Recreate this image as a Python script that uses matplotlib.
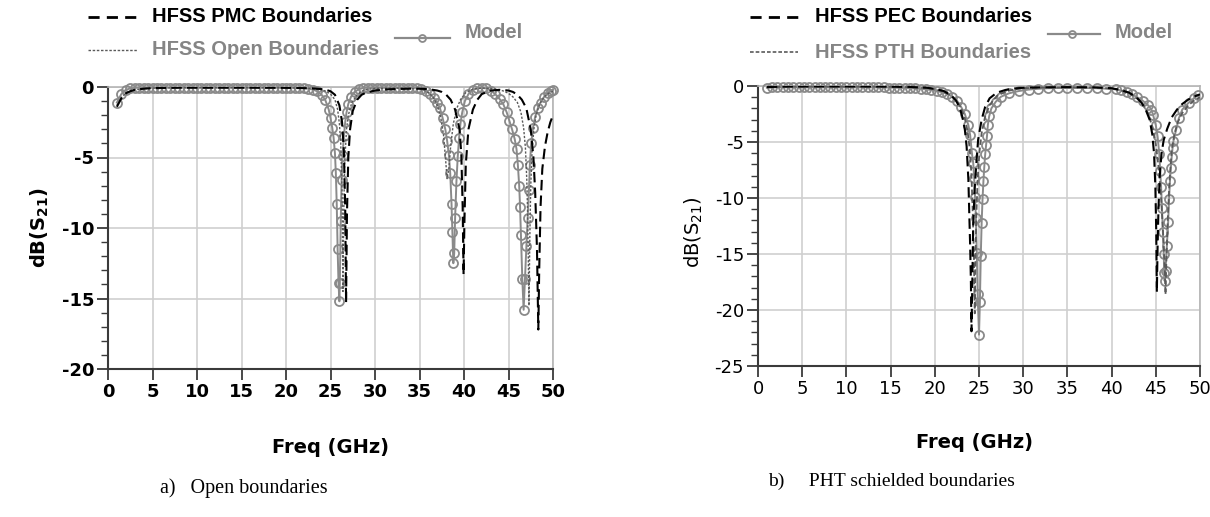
import matplotlib
matplotlib.use('Agg')
import matplotlib.pyplot as plt
from matplotlib.lines import Line2D
from matplotlib.ticker import MultipleLocator

plt.rcParams['mathtext.fontset'] = 'dejavusans'
plt.rcParams['axes.unicode_minus'] = False

# ---------------- data (a) open boundaries ----------------
pmc_f = [1.0, 1.5, 2.0, 2.5, 3.0, 4.0, 5.0, 8.0, 12.0, 16.0, 20.0, 22.0, 23.0, 24.0, 24.5, 25.0, 25.5,
         26.0, 26.3, 26.5, 26.65, 26.75, 26.85, 27.0, 27.2, 27.5, 28.0, 28.5, 29.0, 30.0, 31.0, 32.0,
         34.0, 35.0, 36.0, 37.0, 37.5, 38.0, 38.5, 39.0, 39.5, 39.7, 39.85, 39.95, 40.05, 40.2, 40.5,
         41.0, 41.5, 42.0, 43.0, 44.0, 45.0, 45.5, 46.0, 46.5, 47.0, 47.5, 47.8, 48.0, 48.2, 48.35,
         48.45, 48.6, 48.8, 49.1, 49.4, 49.7, 50.0]
pmc_db = [-1.4, -0.8, -0.45, -0.3, -0.2, -0.12, -0.08, -0.05, -0.05, -0.05, -0.06, -0.08, -0.1, -0.15,
          -0.2, -0.3, -0.55, -1.3, -2.5, -4.5, -8.5, -15.3, -9.0, -5.0, -3.0, -1.7, -0.9, -0.55, -0.4,
          -0.25, -0.18, -0.15, -0.12, -0.12, -0.15, -0.25, -0.35, -0.55, -0.9, -1.6, -3.0, -4.8, -8.5,
          -13.3, -9.5, -5.5, -3.0, -1.6, -0.9, -0.5, -0.25, -0.2, -0.25, -0.35, -0.55, -0.9, -1.5, -3.0,
          -5.0, -7.5, -11.5, -17.2, -13.0, -8.5, -5.8, -4.2, -3.2, -2.5, -2.0]

open_f = [1.0, 1.5, 2.0, 2.5, 3.0, 4.0, 5.0, 8.0, 12.0, 16.0, 20.0, 22.0, 23.0, 24.0, 24.5, 25.0, 25.5,
          25.8, 26.0, 26.15, 26.3, 26.4, 26.5, 26.6, 26.8, 27.0, 27.4, 28.0, 28.5, 29.0, 30.0, 32.0,
          34.0, 35.0, 35.5, 36.0, 36.5, 37.0, 37.4, 37.7, 37.9, 38.1, 38.3, 38.5, 38.8, 39.2, 39.6,
          40.2, 41.0, 42.0, 43.0, 44.0, 44.5, 45.0, 45.5, 46.0, 46.4, 46.7, 46.9, 47.05, 47.15, 47.3,
          47.4, 47.5, 47.65, 47.85, 48.1, 48.5, 49.0, 49.5, 50.0]
open_db = [-1.3, -0.75, -0.45, -0.3, -0.2, -0.12, -0.08, -0.05, -0.05, -0.05, -0.06, -0.08, -0.12, -0.2,
           -0.3, -0.5, -0.9, -1.6, -2.6, -4.0, -7.5, -14.5, -8.5, -5.3, -3.0, -2.0, -1.1, -0.55, -0.3,
           -0.18, -0.1, -0.08, -0.1, -0.15, -0.25, -0.4, -0.7, -1.3, -2.2, -3.4, -4.9, -6.5, -5.8, -4.2,
           -2.6, -1.5, -0.9, -0.4, -0.15, -0.08, -0.1, -0.2, -0.3, -0.45, -0.7, -1.1, -1.8, -2.9, -4.3,
           -6.5, -9.0, -15.5, -10.5, -7.0, -4.5, -3.0, -2.0, -1.2, -0.7, -0.45, -0.3]

modA_f = [1.0, 1.5, 2.0, 2.5, 3.0, 3.5, 4.0, 4.5, 5.0, 5.5, 6.0, 6.5, 7.0, 7.5, 8.0, 8.5, 9.0, 9.5,
          10.0, 10.5, 11.0, 11.5, 12.0, 12.5, 13.0, 13.5, 14.0, 14.5, 15.0, 15.5, 16.0, 16.5, 17.0,
          17.5, 18.0, 18.5, 19.0, 19.5, 20.0, 20.5, 21.0, 21.5, 22.0, 22.5, 23.0, 23.5, 24.0, 24.4,
          24.8, 25.0, 25.2, 25.35, 25.5, 25.6, 25.7, 25.8, 25.9, 26.0, 26.05, 26.15, 26.25, 26.35,
          26.5, 26.65, 26.8, 27.0, 27.3, 27.7, 28.2, 28.7, 29.2, 29.7, 30.2, 30.7, 31.2, 31.7, 32.2,
          32.7, 33.2, 33.7, 34.2, 34.7, 35.2, 35.7, 36.2, 36.6, 37.0, 37.3, 37.6, 37.9, 38.1, 38.3,
          38.45, 38.6, 38.7, 38.8, 38.9, 39.0, 39.15, 39.3, 39.45, 39.6, 39.8, 40.1, 40.5, 41.0, 41.5,
          42.0, 42.5, 43.0, 43.5, 44.0, 44.4, 44.8, 45.1, 45.4, 45.7, 45.9, 46.05, 46.2, 46.3, 46.4,
          46.55, 46.7, 46.85, 47.0, 47.15, 47.3, 47.4, 47.55, 47.75, 48.0, 48.3, 48.6, 49.0, 49.4,
          49.8, 50.0]
modA_db = [-1.1, -0.5, -0.2, -0.1, -0.06, -0.05, -0.05, -0.05, -0.05, -0.05, -0.05, -0.05, -0.05,
           -0.05, -0.05, -0.05, -0.05, -0.05, -0.05, -0.05, -0.05, -0.05, -0.05, -0.05, -0.05, -0.05,
           -0.05, -0.05, -0.05, -0.05, -0.05, -0.05, -0.05, -0.05, -0.05, -0.05, -0.05, -0.05, -0.05,
           -0.05, -0.05, -0.06, -0.08, -0.12, -0.18, -0.3, -0.55, -0.9, -1.6, -2.2, -2.9, -3.6, -4.7,
           -6.1, -8.3, -11.5, -13.9, -15.2, -13.9, -9.5, -6.6, -4.9, -3.5, -2.5, -1.8, -1.2, -0.7,
           -0.35, -0.15, -0.07, -0.05, -0.05, -0.05, -0.05, -0.05, -0.05, -0.05, -0.05, -0.05, -0.05,
           -0.05, -0.06, -0.12, -0.25, -0.5, -0.75, -1.1, -1.5, -2.2, -3.0, -3.8, -4.8, -6.1, -8.3,
           -10.3, -12.5, -11.8, -9.3, -6.7, -4.9, -3.6, -2.6, -1.8, -1.0, -0.5, -0.2, -0.08, -0.06,
           -0.1, -0.25, -0.5, -0.85, -1.2, -1.8, -2.4, -3.0, -3.7, -4.4, -5.5, -7.0, -8.5, -10.5,
           -13.6, -15.8, -13.6, -11.3, -9.3, -7.3, -5.5, -4.0, -2.9, -2.1, -1.5, -1.1, -0.7, -0.45,
           -0.25, -0.2]

# ---------------- data (b) PTH shielded boundaries ----------------
pec_f = [1.0, 3.0, 6.0, 10.0, 14.0, 17.0, 19.0, 20.0, 21.0, 21.8, 22.4, 22.8, 23.1, 23.4, 23.6, 23.8,
         23.9, 24.0, 24.08, 24.15, 24.25, 24.33, 24.5, 24.7, 24.9, 25.3, 25.7, 26.2, 27.0, 28.0, 29.0,
         30.0, 32.0, 35.0, 38.0, 40.0, 41.0, 42.0, 42.8, 43.4, 43.9, 44.3, 44.6, 44.8, 44.95, 45.05,
         45.12, 45.2, 45.3, 45.45, 45.65, 45.9, 46.3, 46.8, 47.4, 48.0, 48.7, 49.3, 50.0]
pec_db = [-0.1, -0.05, -0.04, -0.04, -0.05, -0.08, -0.15, -0.25, -0.45, -0.8, -1.3, -1.9, -2.7, -3.9,
          -5.4, -8.4, -11.4, -14.3, -17.3, -21.9, -17.3, -12.9, -9.3, -6.9, -4.8, -3.0, -1.85, -1.1,
          -0.6, -0.35, -0.22, -0.16, -0.12, -0.1, -0.12, -0.2, -0.35, -0.6, -1.0, -1.5, -2.2, -3.0,
          -4.3, -6.0, -9.0, -13.0, -18.4, -14.5, -11.0, -8.0, -6.0, -4.8, -3.8, -2.8, -2.1, -1.6,
          -1.2, -0.95, -0.75]

pth_f = [1.0, 3.0, 6.0, 10.0, 14.0, 17.0, 19.0, 20.0, 21.0, 21.8, 22.5, 23.0, 23.4, 23.7, 23.95, 24.15,
         24.3, 24.42, 24.52, 24.6, 24.7, 24.85, 25.05, 25.3, 25.7, 26.2, 27.0, 28.0, 29.0, 30.0, 32.0,
         35.0, 38.0, 40.0, 41.0, 42.0, 42.8, 43.5, 44.1, 44.6, 45.0, 45.35, 45.6, 45.85, 46.0, 46.1,
         46.2, 46.35, 46.55, 46.8, 47.1, 47.5, 48.0, 48.6, 49.3, 50.0]
pth_db = [-0.12, -0.06, -0.05, -0.05, -0.06, -0.1, -0.18, -0.3, -0.5, -0.85, -1.35, -2.0, -2.9, -4.0,
          -5.6, -8.0, -11.5, -15.0, -20.3, -15.5, -11.5, -8.3, -5.9, -4.2, -2.7, -1.7, -0.9, -0.5,
          -0.3, -0.2, -0.14, -0.12, -0.14, -0.22, -0.38, -0.65, -1.05, -1.6, -2.4, -3.6, -5.2, -7.5,
          -10.0, -13.5, -16.0, -18.6, -15.5, -12.0, -8.5, -5.8, -4.3, -3.2, -2.4, -1.8, -1.3, -1.0]

modB_f = [1.0, 1.6, 2.2, 2.8, 3.4, 4.0, 4.6, 5.2, 5.8, 6.4, 7.0, 7.6, 8.2, 8.8, 9.4, 10.0, 10.6, 11.2,
          11.8, 12.4, 13.0, 13.6, 14.2, 14.8, 15.4, 16.0, 16.6, 17.2, 17.8, 18.4, 19.0, 19.6, 20.2,
          20.8, 21.4, 22.0, 22.5, 23.0, 23.4, 23.8, 24.0, 24.2, 24.35, 24.45, 24.55, 24.65, 24.75,
          24.85, 25.0, 25.1, 25.2, 25.3, 25.4, 25.5, 25.6, 25.7, 25.8, 25.9, 26.0, 26.15, 26.4,
          26.9, 27.5, 28.4, 29.5, 30.6, 31.7, 32.8, 33.9, 35.0, 36.1, 37.2, 38.3, 39.4, 40.5, 41.1,
          41.7, 42.3, 42.9, 43.5, 44.1, 44.5, 44.7, 45.0, 45.2, 45.4, 45.5, 45.6, 45.7, 45.8, 45.9,
          45.95, 46.0, 46.1, 46.25, 46.4, 46.5, 46.6, 46.7, 46.8, 46.9, 47.0, 47.3, 47.6, 48.0,
          48.7, 49.3, 49.8]
modB_db = [-0.15, -0.13, -0.12, -0.12, -0.12, -0.12, -0.12, -0.12, -0.12, -0.12, -0.12, -0.12, -0.12,
           -0.12, -0.12, -0.12, -0.12, -0.12, -0.12, -0.12, -0.12, -0.13, -0.13, -0.14, -0.15, -0.16,
           -0.18, -0.2, -0.22, -0.25, -0.3, -0.36, -0.45, -0.55, -0.7, -0.95, -1.3, -1.9, -2.5, -3.5,
           -4.4, -6.0, -6.9, -8.2, -9.9, -11.8, -14.9, -18.6, -22.2, -19.3, -15.2, -12.2, -10.1,
           -8.5, -7.2, -6.1, -5.3, -4.5, -3.5, -2.7, -2.0, -1.4, -0.95, -0.65, -0.45, -0.32, -0.25,
           -0.2, -0.18, -0.17, -0.17, -0.18, -0.2, -0.24, -0.3, -0.4, -0.55, -0.75, -1.0, -1.3, -1.7,
           -2.1, -2.6, -3.5, -4.5, -6.1, -7.6, -9.0, -10.9, -13.0, -15.0, -16.7, -17.4, -16.5, -14.3,
           -12.1, -10.1, -8.5, -7.3, -6.3, -5.5, -4.9, -3.9, -2.9, -2.1, -1.5, -1.1, -0.8]

x_ticks = [0, 5, 10, 15, 20, 25, 30, 35, 40, 45, 50]

# ---------------- figure ----------------
W, H = 1210, 517
fig = plt.figure(figsize=(W / 100, H / 100), dpi=100)


def px_axes(x0, x1, y0, y1):
    return fig.add_axes([x0 / W, 1 - y1 / H, (x1 - x0) / W, (y1 - y0) / H])


MODEL_C = '#8a8a8a'
OPEN_C = '#5a5a5a'


def style(ax, ymin, weight):
    ax.set_xlim(0, 50)
    ax.set_ylim(ymin, 0)
    ax.set_xticks(x_ticks)
    ax.yaxis.set_major_locator(MultipleLocator(5))
    ax.yaxis.set_minor_locator(MultipleLocator(1))
    ax.grid(True, which='major', color='#cfcfcf', lw=1.2)
    ax.set_axisbelow(True)
    for s in ['left', 'bottom']:
        ax.spines[s].set_color('#3a3a3a')
        ax.spines[s].set_linewidth(1.5)
    for s in ['top', 'right']:
        ax.spines[s].set_color('#b5b5b5')
        ax.spines[s].set_linewidth(1.2)
    ax.tick_params(which='major', direction='out', length=8, width=1.3, color='#3a3a3a',
                   labelsize=13, pad=2)
    ax.tick_params(which='minor', direction='out', length=5, width=1.0, color='#3a3a3a')
    for lab in ax.get_xticklabels() + ax.get_yticklabels():
        lab.set_fontweight(weight)
        lab.set_family('DejaVu Sans')


def model_plot(ax, f, d):
    ax.plot(f, d, color=MODEL_C, lw=1.4, marker='o', ms=6.5, mfc='none', mec=MODEL_C, mew=1.3,
            clip_on=False, zorder=3)


# ---- left panel ----
axL = px_axes(108, 553, 87, 369)
model_plot(axL, modA_f, modA_db)
axL.plot(open_f, open_db, color=OPEN_C, lw=1.0, dashes=(1.6, 1.2), zorder=4)
axL.plot(pmc_f, pmc_db, color='black', lw=1.5, dashes=(5, 2.5), zorder=5)
style(axL, -20, 'bold')
axL.set_ylabel(r'dB(S$_{\mathbf{21}}$)', fontsize=14, fontweight='bold')
axL.yaxis.set_label_coords(-0.128, 0.5)
axL.set_xlabel('Freq (GHz)', fontsize=14, fontweight='bold')
axL.xaxis.set_label_coords(0.5, -0.245)

# ---- right panel ----
axR = px_axes(758, 1200, 86, 366)
model_plot(axR, modB_f, modB_db)
axR.plot(pth_f, pth_db, color=OPEN_C, lw=1.3, dashes=(3, 1.5), zorder=4)
axR.plot(pec_f, pec_db, color='black', lw=1.5, dashes=(5, 2.5), zorder=5)
style(axR, -25, 'normal')
axR.set_ylabel(r'dB(S$_{21}$)', fontsize=14, fontweight='normal')
axR.yaxis.set_label_coords(-0.12, 0.48)
axR.set_xlabel('Freq (GHz)', fontsize=14, fontweight='bold')
axR.xaxis.set_label_coords(0.49, -0.238)

# ---- legends (figure coordinates in pixels) ----
LEG_FONT = ['Liberation Sans Narrow', 'Liberation Sans', 'DejaVu Sans']


def fx(x):
    return x / W


def fy(y):
    return 1 - y / H


def leg_line(x0, x1, y, **kw):
    fig.add_artist(Line2D([fx(x0), fx(x1)], [fy(y), fy(y)], transform=fig.transFigure, **kw))


def leg_text(x, y, s, color):
    fig.text(fx(x), fy(y), s, color=color, fontsize=14.5, fontweight='bold', family=LEG_FONT,
             ha='left', va='center')


# left legend
leg_line(88, 137, 17, color='black', lw=2.0, dashes=(4, 2.6))
leg_text(152, 17, 'HFSS PMC Boundaries', 'black')
leg_line(88, 137, 50, color=OPEN_C, lw=1.0, dashes=(1.8, 1.2))
leg_text(152, 50, 'HFSS Open Boundaries', '#858585')
leg_line(395, 450, 38, color=MODEL_C, lw=1.6)
fig.add_artist(Line2D([fx(422)], [fy(38)], transform=fig.transFigure, marker='o', ms=5,
                      mfc='none', mec=MODEL_C, mew=1.3, color=MODEL_C))
leg_text(465, 33, 'Model', '#858585')

# right legend
leg_line(750, 798, 17, color='black', lw=2.0, dashes=(4, 2.6))
leg_text(815, 17, 'HFSS PEC Boundaries', 'black')
leg_line(750, 798, 52, color=OPEN_C, lw=1.2, dashes=(2.2, 1.2))
leg_text(815, 52, 'HFSS PTH Boundaries', '#858585')
leg_line(1048, 1100, 34, color=MODEL_C, lw=1.6)
fig.add_artist(Line2D([fx(1072)], [fy(34)], transform=fig.transFigure, marker='o', ms=5,
                      mfc='none', mec=MODEL_C, mew=1.3, color=MODEL_C))
leg_text(1115, 32, 'Model', '#858585')

# captions
fig.text(fx(160), fy(488), 'a)   Open boundaries', fontsize=14.5, family='Liberation Serif',
         ha='left', va='center')
fig.text(fx(768), fy(481), 'b)     PHT schielded boundaries', fontsize=14, family='Liberation Serif',
         ha='left', va='center')

fig.savefig('out.png', dpi=100)
